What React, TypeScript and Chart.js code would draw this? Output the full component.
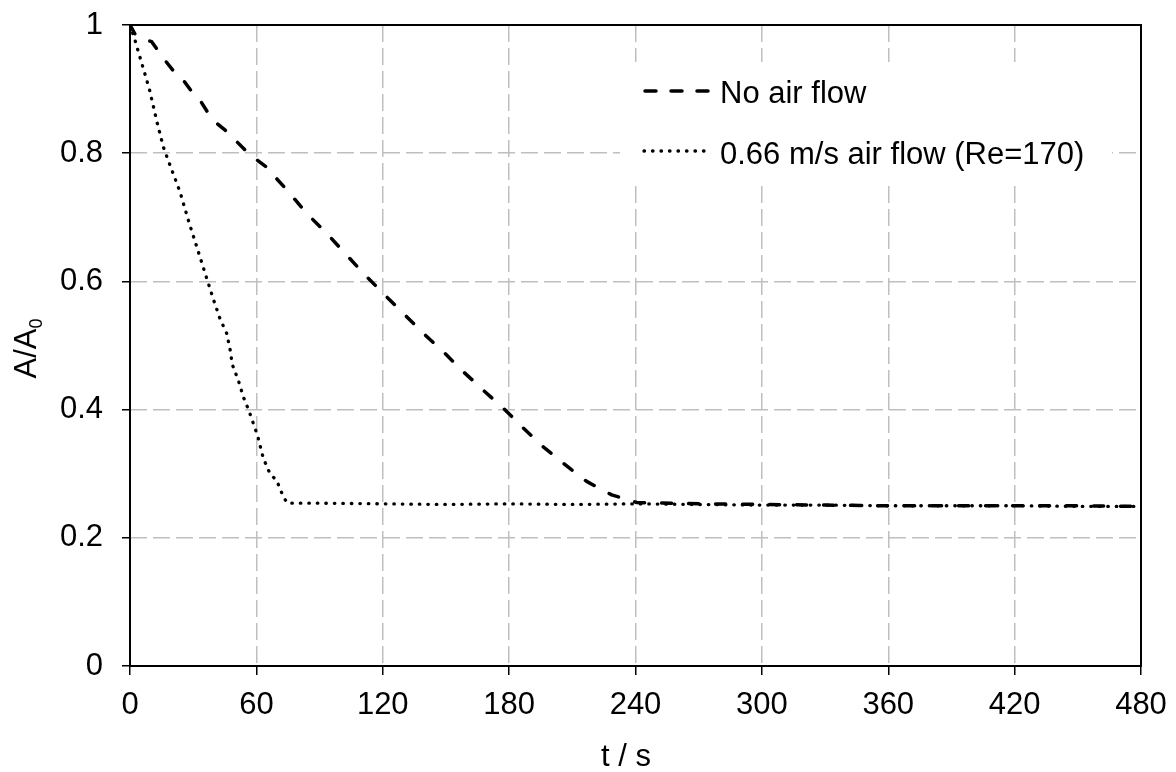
import React, { useEffect, useRef } from "react";
import { Chart, registerables } from "chart.js";

Chart.register(...registerables);

// ---- data ----
const noFlowT = [0, 2.5, 6.3, 10.3, 15.0, 16.6, 22.2, 25.3, 29.3, 33.2, 37.2, 41.1, 45.9, 50.7, 56.2, 60.1, 65.7, 69.7, 74.4, 83.9, 93.4, 102.0, 111.6, 120.3, 129.8, 139.3, 148.8, 158.3, 167.8, 177.3, 186.8, 196.2, 206.6, 216.8, 228.7, 240.6, 270, 300, 330, 360, 390, 420, 450, 480];
const noFlowA = [1.0, 0.985, 0.978, 0.974, 0.952, 0.945, 0.922, 0.914, 0.896, 0.883, 0.862, 0.847, 0.834, 0.818, 0.8, 0.79, 0.776, 0.76, 0.743, 0.706, 0.675, 0.644, 0.61, 0.581, 0.55, 0.519, 0.49, 0.459, 0.43, 0.402, 0.371, 0.342, 0.314, 0.288, 0.267, 0.255, 0.253, 0.252, 0.251, 0.25, 0.25, 0.25, 0.25, 0.249];

const airFlowT = [0, 2.4, 4.7, 9.2, 12.7, 15.8, 18.0, 23.7, 28.2, 31.7, 36.4, 40.0, 42.7, 45.9, 47.5, 48.6, 51.4, 53.8, 56.6, 60.6, 63.3, 66.5, 69.7, 72.8, 74.7, 90, 120, 150, 180, 210, 240, 270, 300, 330, 360, 390, 420, 450, 480];
const airFlowA = [1.0, 0.976, 0.95, 0.9, 0.85, 0.81, 0.79, 0.74, 0.69, 0.654, 0.605, 0.568, 0.542, 0.519, 0.494, 0.47, 0.446, 0.42, 0.397, 0.359, 0.324, 0.3, 0.289, 0.264, 0.254, 0.254, 0.253, 0.252, 0.253, 0.252, 0.253, 0.252, 0.251, 0.251, 0.25, 0.25, 0.25, 0.249, 0.249];

const seriesLabels = ["No air flow", "0.66 m/s air flow (Re=170)"];

const xTicks = [0, 60, 120, 180, 240, 300, 360, 420, 480];
const xTickLabels = ["0", "60", "120", "180", "240", "300", "360", "420", "480"];
const yTicks = [0, 0.2, 0.4, 0.6, 0.8, 1];
const yTickLabels = ["0", "0.2", "0.4", "0.6", "0.8", "1"];

const xTitle = "t / s";
const yTitleMain = "A/A";
const yTitleSub = "0";

// ---- styles ----
const FONT_FAMILY = '"Liberation Sans", Arial, Helvetica, sans-serif';
const FONT_SIZE = 31;
const GRID_COLOR = "#bfbfbf";
const DASH_STYLE = [10, 17];
const DOT_STYLE = [0.5, 8];

const decorPlugin = {
  id: "decor",
  beforeDraw(chart: any) {
    const { ctx, width, height } = chart;
    ctx.save();
    ctx.fillStyle = "#ffffff";
    ctx.fillRect(0, 0, width, height);
    ctx.restore();
  },
  beforeDatasetsDraw(chart: any) {
    const { ctx, chartArea } = chart;
    ctx.save();
    // legend background box
    ctx.fillStyle = "#ffffff";
    ctx.fillRect(620, 62, 492, 120);
    // frame
    ctx.strokeStyle = "#000000";
    ctx.lineWidth = 2;
    ctx.setLineDash([]);
    ctx.strokeRect(
      chartArea.left,
      chartArea.top,
      chartArea.right - chartArea.left,
      chartArea.bottom - chartArea.top
    );
    ctx.restore();
  },
  afterDatasetsDraw(chart: any) {
    const { ctx, chartArea } = chart;
    const ds = chart.data.datasets;
    ctx.save();
    // legend
    const rows = [
      { y: 91, base: 102.5 },
      { y: 151, base: 164 },
    ];
    rows.forEach((r, i) => {
      const d = ds[i];
      ctx.beginPath();
      ctx.strokeStyle = d.borderColor;
      ctx.lineWidth = d.borderWidth;
      ctx.lineCap = "round";
      ctx.setLineDash(i === 0 ? [11, 15] : d.borderDash);
      ctx.lineDashOffset = i === 0 ? -2 : 0;
      ctx.moveTo(i === 0 ? 643 : 644, r.y);
      ctx.lineTo(712, r.y);
      ctx.stroke();
      ctx.setLineDash([]);
      ctx.fillStyle = "#000";
      ctx.font = `${FONT_SIZE}px ${FONT_FAMILY}`;
      ctx.textAlign = "left";
      ctx.textBaseline = "alphabetic";
      ctx.fillText(d.label, 720, r.base);
    });

    // x title
    ctx.font = `${FONT_SIZE}px ${FONT_FAMILY}`;
    ctx.textAlign = "center";
    ctx.textBaseline = "alphabetic";
    ctx.fillStyle = "#000";
    ctx.fillText(xTitle, 626, 766);

    // y title (rotated, with subscript)
    const mainFont = `${FONT_SIZE}px ${FONT_FAMILY}`;
    const subFont = `18px ${FONT_FAMILY}`;
    ctx.font = mainFont;
    const w1 = ctx.measureText(yTitleMain).width;
    ctx.font = subFont;
    const w2 = ctx.measureText(yTitleSub).width;
    const total = w1 + w2;
    const cy = (chartArea.top + chartArea.bottom) / 2 + 3;
    ctx.translate(36, cy);
    ctx.rotate(-Math.PI / 2);
    ctx.textAlign = "left";
    ctx.font = mainFont;
    ctx.fillText(yTitleMain, -total / 2, 0);
    ctx.font = subFont;
    ctx.fillText(yTitleSub, -total / 2 + w1, 6);
    ctx.restore();
  },
};

export default function App() {
  const canvasRef = useRef<HTMLCanvasElement | null>(null);

  useEffect(() => {
    if (!canvasRef.current) return;
    const edgeX = (c: any) =>
      c.tick && (c.tick.value === xTicks[0] || c.tick.value === xTicks[xTicks.length - 1])
        ? "rgba(0,0,0,0)"
        : GRID_COLOR;
    const edgeY = (c: any) =>
      c.tick && (c.tick.value === yTicks[0] || c.tick.value === yTicks[yTicks.length - 1])
        ? "rgba(0,0,0,0)"
        : GRID_COLOR;
    const tickFont = { family: FONT_FAMILY, size: FONT_SIZE };

    const chart = new Chart(canvasRef.current, {
      type: "scatter",
      data: {
        datasets: [
          {
            label: seriesLabels[0],
            data: noFlowT.map((t, i) => ({ x: t, y: noFlowA[i] })),
            showLine: true,
            borderColor: "#000000",
            backgroundColor: "#000000",
            borderWidth: 3.5,
            borderDash: DASH_STYLE,
            borderCapStyle: "round",
            borderJoinStyle: "round",
            pointRadius: 0,
            pointHoverRadius: 0,
            tension: 0,
            fill: false,
          },
          {
            label: seriesLabels[1],
            data: airFlowT.map((t, i) => ({ x: t, y: airFlowA[i] })),
            showLine: true,
            borderColor: "#000000",
            backgroundColor: "#000000",
            borderWidth: 3.3,
            borderDash: DOT_STYLE,
            borderCapStyle: "round",
            borderJoinStyle: "round",
            pointRadius: 0,
            pointHoverRadius: 0,
            tension: 0,
            fill: false,
          },
        ],
      } as any,
      options: {
        responsive: false,
        animation: false,
        events: [],
        layout: { padding: { left: 0, top: 25, right: 35, bottom: 0 } },
        plugins: {
          legend: { display: false },
          tooltip: { enabled: false },
          title: { display: false },
        },
        scales: {
          x: {
            type: "linear",
            min: 0,
            max: 480,
            afterBuildTicks: (s: any) => {
              s.ticks = xTicks.map((v) => ({ value: v }));
            },
            afterFit: (s: any) => {
              s.height = 106;
              s.paddingLeft = 0;
              s.paddingRight = 0;
            },
            ticks: {
              callback: (_v: any, i: number) => xTickLabels[i],
              font: tickFont,
              color: "#000",
              padding: 12,
              maxRotation: 0,
              autoSkip: false,
            },
            grid: {
              color: edgeX,
              lineWidth: 1.5,
              drawTicks: true,
              tickLength: 9,
              tickColor: "#000",
              tickWidth: 1.5,
            },
            border: { display: false, dash: [17, 6] },
          },
          y: {
            type: "linear",
            min: 0,
            max: 1,
            afterBuildTicks: (s: any) => {
              s.ticks = yTicks.map((v) => ({ value: v }));
            },
            afterFit: (s: any) => {
              s.width = 130;
              s.paddingTop = 0;
              s.paddingBottom = 0;
            },
            ticks: {
              callback: (_v: any, i: number) => yTickLabels[i],
              font: tickFont,
              color: "#000",
              padding: 19,
              autoSkip: false,
            },
            grid: {
              color: edgeY,
              lineWidth: 1.5,
              drawTicks: true,
              tickLength: 8,
              tickColor: "#000",
              tickWidth: 1.5,
            },
            border: { display: false, dash: [17, 6] },
          },
        },
      } as any,
      plugins: [decorPlugin],
    });
    return () => chart.destroy();
  }, []);

  return (
    <div style={{ position: "absolute", left: 0, top: 0, width: 1176, height: 772 }}>
      <canvas ref={canvasRef} width={1176} height={772} style={{ display: "block" }} />
    </div>
  );
}
